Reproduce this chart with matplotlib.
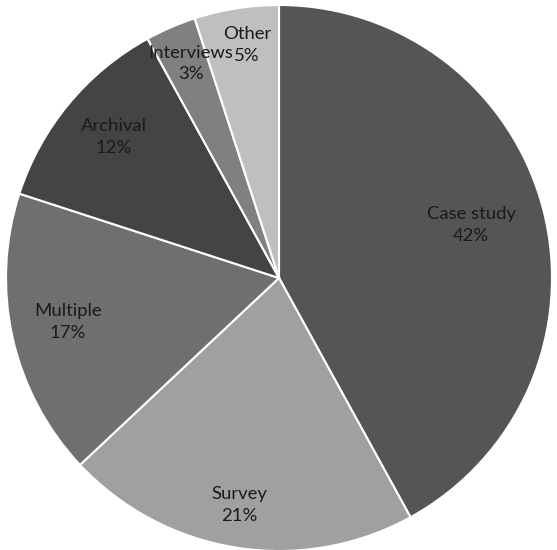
import numpy as np
import matplotlib
matplotlib.use("Agg")
import matplotlib.pyplot as plt

categories = ["Case study", "Survey", "Multiple", "Archival", "Interviews", "Other"]
shares = [42, 21, 17, 12, 3, 5]
colors = ["#555555", "#a0a0a0", "#6f6f6f", "#444444", "#808080", "#bfbfbf"]
label_radius = [0.73, 0.845, 0.79, 0.795, 0.85, 0.86]
label_angle_shift = [1.1, -1.0, -0.9, -0.9, -1.0, -1.2]

fig = plt.figure(figsize=(5.57, 5.50), dpi=100)
ax = fig.add_axes([0, 0, 1, 1])
wedges, _ = ax.pie(shares, colors=colors, startangle=90, counterclock=False,
                   radius=1.0, wedgeprops=dict(edgecolor="white", linewidth=1.5))
ax.set_xlim(-279 / 273, 278 / 273)
ax.set_ylim(-272 / 273, 278 / 273)
ax.set_aspect("auto")
ax.axis("off")

for w, cat, val, r, sh in zip(wedges, categories, shares, label_radius, label_angle_shift):
    mid = np.deg2rad((w.theta1 + w.theta2) / 2 + sh)
    ax.text(r * np.cos(mid), r * np.sin(mid), f"{cat}\n{val}%", ha="center", va="center",
            fontsize=13.3, family="Lato", color="#1a1a1a", linespacing=1.45)

fig.savefig("out.png", dpi=100, facecolor="white")
